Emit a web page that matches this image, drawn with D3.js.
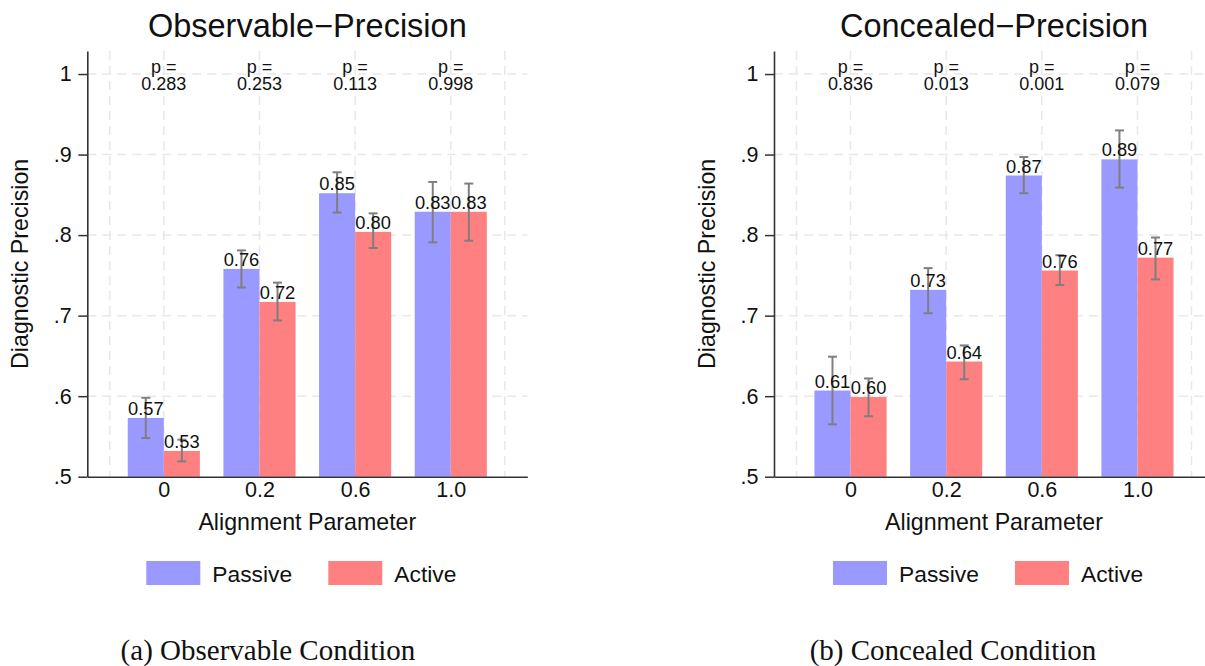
<!DOCTYPE html>
<html>
<head>
<meta charset="utf-8">
<script src="https://cdn.jsdelivr.net/npm/d3@7"></script>
<style>
  body { margin: 0; background: #fff; }
  text { font-family: "Liberation Sans", Arial, Helvetica, sans-serif; fill: #111; }
  .caption { font-family: "Liberation Serif", "Times New Roman", serif; }
</style>
</head>
<body>
<script>
//Categories on the x axis
var categories = ["0", "0.2", "0.6", "1.0"];

//Observable condition
var obsPassive   = [0.573, 0.758, 0.852, 0.829];
var obsPassiveLo = [0.548, 0.735, 0.828, 0.791];
var obsPassiveHi = [0.598, 0.781, 0.878, 0.866];
var obsActive    = [0.532, 0.717, 0.804, 0.829];
var obsActiveLo  = [0.519, 0.694, 0.784, 0.793];
var obsActiveHi  = [0.546, 0.741, 0.827, 0.864];
var obsP = ["0.283", "0.253", "0.113", "0.998"];

//Concealed condition
var conPassive   = [0.607, 0.732, 0.874, 0.894];
var conPassiveLo = [0.565, 0.703, 0.852, 0.859];
var conPassiveHi = [0.649, 0.759, 0.897, 0.930];
var conActive    = [0.599, 0.643, 0.756, 0.772];
var conActiveLo  = [0.575, 0.621, 0.738, 0.745];
var conActiveHi  = [0.622, 0.663, 0.775, 0.797];
var conP = ["0.836", "0.013", "0.001", "0.079"];

//Y ticks
var yTicks = [0.5, 0.6, 0.7, 0.8, 0.9, 1];

var seriesNames = ["Passive", "Active"];
var color = d3.scaleOrdinal().domain(seriesNames).range(["#9999ff", "#ff8080"]);

var panels = [
  {title: "Observable\u2212Precision", caption: "(a) Observable Condition",
   left: 87.3, captionX: 268, p: obsP,
   series: [[obsPassive, obsPassiveLo, obsPassiveHi], [obsActive, obsActiveLo, obsActiveHi]]},
  {title: "Concealed\u2212Precision", caption: "(b) Concealed Condition",
   left: 774, captionX: 953, p: conP,
   series: [[conPassive, conPassiveLo, conPassiveHi], [conActive, conActiveLo, conActiveHi]]}
];

//Plot size
var plotTop = 51, width = 440, height = 425.7;

var svg = d3.select("body").append("svg")
    .attr("width", 1205)
    .attr("height", 666);

svg.append("rect").attr("width", 1205).attr("height", 666).attr("fill", "#fff");

//Shared scales
var x = d3.scaleLinear().domain([0.2, 4.8]).range([0, width]);
var y = d3.scaleLinear().domain([0.5, 1.0286]).range([height, 0]);
var barW = x(1.377) - x(1);

panels.forEach(function(p) {
  var g = svg.append("g").attr("transform", "translate(" + p.left + "," + plotTop + ")");

  //Grid
  g.append("g").selectAll("line")
      .data(yTicks.slice(1))
      .enter().append("line")
      .attr("x1", 0).attr("x2", width)
      .attr("y1", function(d) { return y(d); })
      .attr("y2", function(d) { return y(d); })
      .attr("stroke", "#e8e8e8").attr("stroke-width", 1.5)
      .attr("stroke-dasharray", "9,6");
  g.append("g").selectAll("line")
      .data([0.435, 1, 2, 3, 4, 4.565])
      .enter().append("line")
      .attr("x1", function(d) { return x(d); })
      .attr("x2", function(d) { return x(d); })
      .attr("y1", 0).attr("y2", height)
      .attr("stroke", "#e8e8e8").attr("stroke-width", 1.5)
      .attr("stroke-dasharray", "9,6");

  //Bars, error bars and labels
  p.series.forEach(function(s, si) {
    var rows = categories.map(function(c, i) {
      return {i: i + 1, v: s[0][i], lo: s[1][i], hi: s[2][i]};
    });
    var off = si === 0 ? -barW : 0;
    var sg = g.append("g");
    sg.selectAll("rect")
        .data(rows)
        .enter().append("rect")
        .attr("x", function(d) { return x(d.i) + off; })
        .attr("width", barW)
        .attr("y", function(d) { return y(d.v); })
        .attr("height", function(d) { return height - y(d.v); })
        .attr("fill", color(seriesNames[si]));
    var cx = function(d) { return x(d.i) + off + barW / 2; };
    sg.selectAll("line.err")
        .data(rows)
        .enter().append("line")
        .attr("class", "err")
        .attr("x1", cx).attr("x2", cx)
        .attr("y1", function(d) { return y(d.lo); })
        .attr("y2", function(d) { return y(d.hi); });
    ["lo", "hi"].forEach(function(k) {
      sg.selectAll("line.cap" + k)
          .data(rows)
          .enter().append("line")
          .attr("class", "cap" + k)
          .attr("x1", function(d) { return cx(d) - 4.5; })
          .attr("x2", function(d) { return cx(d) + 4.5; })
          .attr("y1", function(d) { return y(d[k]); })
          .attr("y2", function(d) { return y(d[k]); });
    });
    sg.selectAll("line").attr("stroke", "#7f7f7f").attr("stroke-width", 2);
    sg.selectAll("text")
        .data(rows)
        .enter().append("text")
        .attr("x", cx)
        .attr("y", function(d) { return y(d.v) - 3; })
        .attr("text-anchor", "middle")
        .style("font-size", "18.3px")
        .text(function(d) { return d.v.toFixed(2); });
  });

  //P values
  var pg = g.append("g").selectAll("g")
      .data(p.p)
      .enter().append("g")
      .attr("transform", function(d, i) { return "translate(" + x(i + 1) + ",0)"; });
  pg.append("text").attr("y", 21.5).attr("text-anchor", "middle")
      .style("font-size", "18px").text("p =");
  pg.append("text").attr("y", 38.5).attr("text-anchor", "middle")
      .style("font-size", "18px").text(function(d) { return d; });

  //Y axis
  var yAxis = g.append("g")
      .call(d3.axisLeft(y)
        .tickValues(yTicks)
        .tickSize(9)
        .tickSizeOuter(0)
        .tickPadding(6.5)
        .tickFormat(function(d) { return d === 1 ? "1" : d3.format(".1f")(d).replace(/^0/, ""); }));
  yAxis.selectAll("line").attr("stroke", "#333").attr("stroke-width", 1.5);
  yAxis.select(".domain").attr("stroke", "#333").attr("stroke-width", 1.6);
  yAxis.selectAll("text").style("font-size", "21.5px").attr("fill", "#111")
      .style("font-family", "'Liberation Sans', Arial, sans-serif");

  //X axis
  var xAxis = g.append("g")
      .attr("transform", "translate(0," + height + ")")
      .call(d3.axisBottom(x)
        .tickValues([1, 2, 3, 4])
        .tickSize(0)
        .tickSizeOuter(0)
        .tickPadding(5)
        .tickFormat(function(d) { return categories[d - 1]; }));
  xAxis.select(".domain").attr("stroke", "#333").attr("stroke-width", 1.6);
  xAxis.selectAll("text").style("font-size", "21.5px").attr("fill", "#111")
      .style("font-family", "'Liberation Sans', Arial, sans-serif");

  //Titles
  g.append("text").attr("x", width / 2).attr("y", -14.5)
      .attr("text-anchor", "middle").style("font-size", "32.5px").text(p.title);
  g.append("text").attr("x", width / 2).attr("y", 479)
      .attr("text-anchor", "middle").style("font-size", "23.2px").text("Alignment Parameter");
  g.append("text")
      .attr("transform", "translate(-59.3," + (height / 2) + ") rotate(-90)")
      .attr("text-anchor", "middle").style("font-size", "23.2px").text("Diagnostic Precision");

  //Legend
  var lg = g.append("g").selectAll("g")
      .data(seriesNames)
      .enter().append("g")
      .attr("transform", function(d, i) { return "translate(" + (59 + i * 182) + ",510)"; });
  lg.append("rect").attr("width", 54).attr("height", 24)
      .attr("fill", function(d) { return color(d); });
  lg.append("text").attr("x", 66).attr("y", 20.5)
      .style("font-size", "22.8px").text(function(d) { return d; });

  //Caption
  svg.append("text").attr("class", "caption")
      .attr("x", p.captionX).attr("y", 660)
      .attr("text-anchor", "middle").style("font-size", "29px")
      .text(p.caption);
});
</script>
</body>
</html>
